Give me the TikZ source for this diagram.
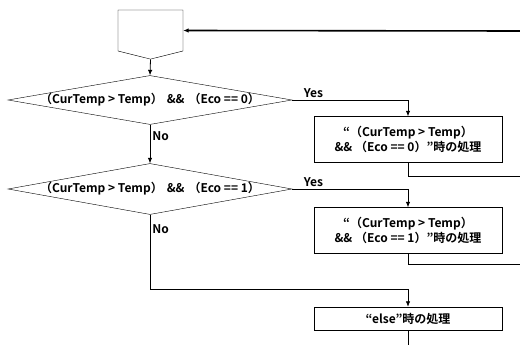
\documentclass[tikz,border=0pt]{standalone}
\usepackage{fontspec}
\setmainfont{Noto Sans CJK JP}[BoldFont={Noto Sans CJK JP Bold}]
\usetikzlibrary{shapes.geometric, shapes.symbols, arrows.meta, positioning}

\begin{document}
\begin{tikzpicture}[
    x=1pt, y=-1pt,
    every node/.style={font=\fontsize{12}{14.5}\selectfont\bfseries},
    limit/.style={signal, signal to=south, signal pointer angle=152, draw, minimum width=65pt, minimum height=41pt, inner sep=0pt},
    decision/.style={diamond, draw, minimum width=284pt, inner sep=0pt},
    process/.style={rectangle, draw, minimum width=188pt, align=center, inner sep=2pt},
    flow/.style={-{Latex[length=5.5pt, width=4.5pt]}, line width=0.8pt},
    link/.style={line width=0.8pt},
    answer/.style={inner sep=2pt},
]
\useasboundingbox (0,0) rectangle (520,345);

% === start / loop limit ===
\node[limit] (start) at (150.5,30.5) {};
\coordinate (loopin) at (520,31);

% === decision 1 ===
\node[decision, minimum height=49pt] (d1) at (150,100) {};
\node at (d1.center) {（CurTemp > Temp）\hspace{4pt}\&\&\hspace{4pt}（Eco == 0）};
\node[process, minimum height=46pt] (p1) at (408,139.5) {“（CurTemp > Temp）\\\&\& （Eco == 0）”時の処理};
\coordinate (out1) at (520,176);

% === decision 2 ===
\node[decision, minimum height=51pt] (d2) at (150,189) {};
\node at (d2.center) {（CurTemp > Temp）\hspace{4pt}\&\&\hspace{4pt}（Eco == 1）};
\node[process, minimum height=46pt] (p2) at (408,230.5) {“（CurTemp > Temp）\\\&\& （Eco == 1）”時の処理};
\coordinate (out2) at (520,264);

% === else ===
\coordinate (elbow) at (150,289);
\node[process, minimum height=23pt] (p3) at (408,318.5) {“else”時の処理};
\coordinate (out3) at (408,345);

% connectors
\draw[flow] (start.south) -- (d1.north);
\draw[flow] (d1.east) -| node[answer, above right, pos=0.04] {Yes} (p1.north);
\draw[flow] (d1.south) -- node[answer, right, pos=0.3] {No} (d2.north);
\draw[link] (p1.south) |- (out1);

\draw[flow] (d2.east) -| node[answer, above right, pos=0.04] {Yes} (p2.north);
\draw[link] (p2.south) |- (out2);
\draw[flow] (d2.south) -- node[answer, right, pos=0.2] {No} (elbow) -| (p3.north);
\draw[link] (p3.south) -- (out3);

% loop back
\draw[flow, line width=1.6pt] (loopin) -- (start.east);

\end{tikzpicture}
\end{document}
